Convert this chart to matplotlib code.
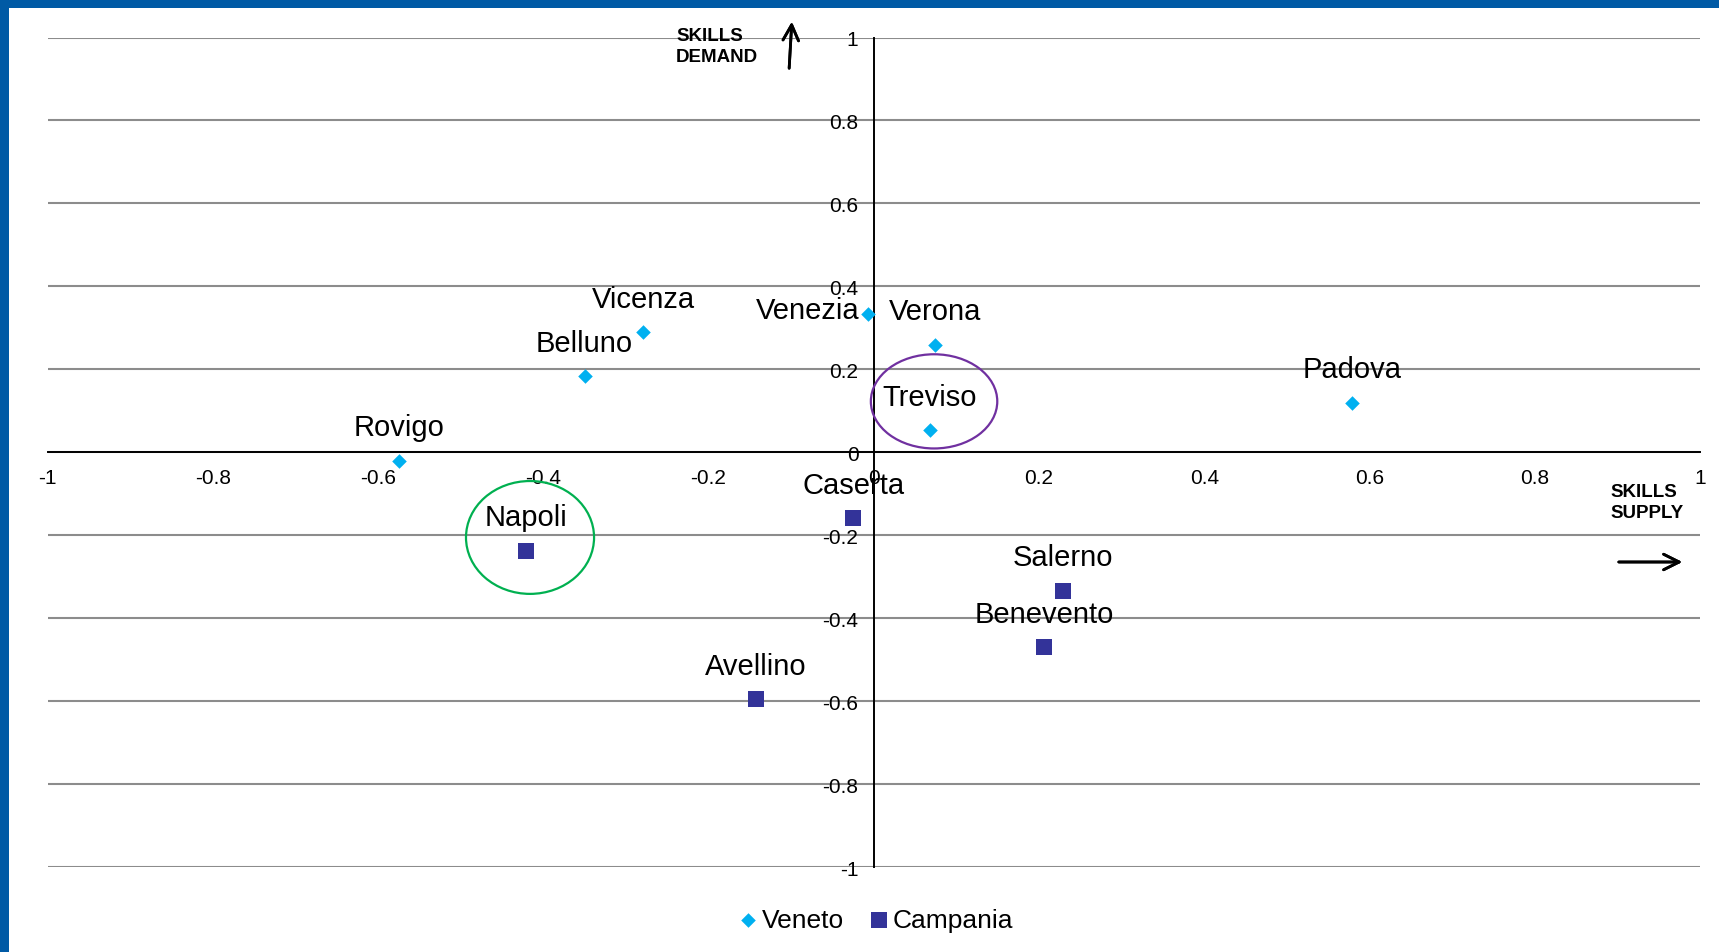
import matplotlib
matplotlib.use("Agg")
import matplotlib.pyplot as plt
from matplotlib.patches import Ellipse, Rectangle

plt.rcParams['font.family'] = ['Liberation Sans', 'DejaVu Sans']

# provinces: x = skills supply, y = skills demand
veneto_names = ["Rovigo", "Belluno", "Vicenza", "Venezia", "Verona", "Treviso", "Padova"]
veneto_x = [-0.574, -0.350, -0.279, -0.007, 0.074, 0.068, 0.579]
veneto_y = [-0.020, 0.184, 0.289, 0.334, 0.260, 0.054, 0.120]

campania_names = ["Napoli", "Caserta", "Salerno", "Benevento", "Avellino"]
campania_x = [-0.421, -0.025, 0.229, 0.206, -0.143]
campania_y = [-0.237, -0.159, -0.333, -0.470, -0.594]

ticks = [-1, -0.8, -0.6, -0.4, -0.2, 0, 0.2, 0.4, 0.6, 0.8, 1]
tick_labels = ["-1", "-0.8", "-0.6", "-0.4", "-0.2", "0", "0.2", "0.4", "0.6", "0.8", "1"]

W, H = 1719, 953
fig = plt.figure(figsize=(W / 100, H / 100), dpi=100)
ax = fig.add_axes([47.5 / W, 1 - 868.3 / H, (1700 - 47.5) / W, (868.3 - 38.5) / H])

# blue frame on top and left edge
fig.add_artist(Rectangle((0, 1 - 9 / H), 1, 9 / H, transform=fig.transFigure,
                         color="#005aa5", lw=0))
fig.add_artist(Rectangle((0, 0), 9 / W, 1, transform=fig.transFigure,
                         color="#005aa5", lw=0))

ax.set_xlim(-1, 1)
ax.set_ylim(-1, 1)
for s in ["top", "right"]:
    ax.spines[s].set_visible(False)
ax.spines["left"].set_position("zero")
ax.spines["bottom"].set_position("zero")
ax.spines["left"].set_linewidth(1.4)
ax.spines["bottom"].set_linewidth(1.4)

ax.set_xticks(ticks)
ax.set_xticklabels(tick_labels)
ax.set_yticks(ticks)
ax.set_yticklabels(tick_labels)
ax.tick_params(axis="x", length=0, pad=11, labelsize=15)
ax.tick_params(axis="y", length=0, pad=11, labelsize=15)
ax.yaxis.grid(True, color="#8c8c8c", lw=1.5)
ax.set_axisbelow(True)

ax.scatter(veneto_x, veneto_y, marker="D", s=55, color="#00b0f0", lw=0,
           zorder=4, label="Veneto", clip_on=False)
ax.scatter(campania_x, campania_y, marker="s", s=135, color="#333399", lw=0,
           zorder=4, label="Campania", clip_on=False)

for name, x, y in zip(veneto_names, veneto_x, veneto_y):
    if name == "Venezia":
        ax.annotate(name, (x, y), xytext=(-6, 3), textcoords="offset points",
                    ha="right", va="center", fontsize=21)
    else:
        ax.annotate(name, (x, y), xytext=(0, 24), textcoords="offset points",
                    ha="center", va="center", fontsize=21)
for name, x, y in zip(campania_names, campania_x, campania_y):
    ax.annotate(name, (x, y), xytext=(0, 24), textcoords="offset points",
                ha="center", va="center", fontsize=21)

# highlighted provinces
ax.add_patch(Ellipse((0.073, 0.123), 0.153, 0.227, fill=False,
                     edgecolor="#7030a0", lw=1.6, zorder=3))
ax.add_patch(Ellipse((-0.416, -0.205), 0.155, 0.272, fill=False,
                     edgecolor="#00b050", lw=1.6, zorder=3))

# axis captions and arrows
fig.text(676 / W, 1 - 47 / H, "SKILLS\nDEMAND", fontsize=13.5, fontweight="bold",
         ha="left", va="center", linespacing=1.3)
fig.text(1610 / W, 1 - 503 / H, "SKILLS\nSUPPLY", fontsize=13.5, fontweight="bold",
         ha="left", va="center", linespacing=1.3)
fig.add_artist(plt.annotate("", xy=(792 / W, 1 - 20 / H), xytext=(789 / W, 1 - 72 / H),
                            xycoords="figure fraction", textcoords="figure fraction",
                            arrowprops=dict(arrowstyle="->", lw=2, color="black",
                                            mutation_scale=28)))
fig.add_artist(plt.annotate("", xy=(1685 / W, 1 - 563 / H), xytext=(1616 / W, 1 - 563 / H),
                            xycoords="figure fraction", textcoords="figure fraction",
                            arrowprops=dict(arrowstyle="->", lw=2, color="black",
                                            mutation_scale=28)))

fig.legend(loc="center", bbox_to_anchor=(876 / W, 1 - 921 / H), ncol=2, frameon=False,
           fontsize=19, handlelength=0.7, handletextpad=0.15, columnspacing=1.0)

fig.savefig("out.png", dpi=100)
